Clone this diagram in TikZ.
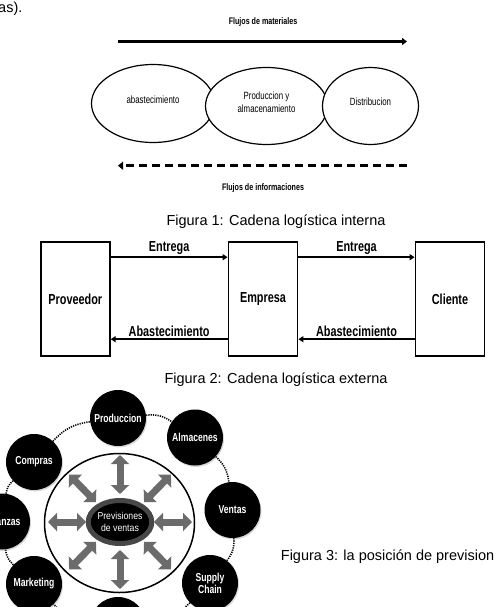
\documentclass[tikz,border=0pt]{standalone}
\usepackage{fontspec}
\setmainfont{Liberation Sans}
\newfontfamily\tightsans[FakeStretch=0.75]{Liberation Sans}
\newfontfamily\hubsans[FakeStretch=0.87]{Liberation Sans}
\usepackage{tikz}
\usetikzlibrary{arrows.meta,positioning,shapes.geometric,shadows}
\pgfdeclarelayer{edgelayer}
\pgfdeclarelayer{nodelayer}
\pgfsetlayers{edgelayer,nodelayer,main}

\tikzset{
  caption/.style={font=\fontsize{14.5}{16}\selectfont,inner sep=0pt},
  flowlabel/.style={font=\tightsans\bfseries\fontsize{9.5}{11}\selectfont},
  stage/.style={ellipse,draw,line width=1.2pt,fill=white,inner sep=0pt,
    label={[font=\tightsans\fontsize{10.5}{13}\selectfont,align=center,yshift=4pt]center:#1}},
  party/.style={draw,line width=1.8pt,minimum width=69pt,minimum height=114pt,
    font=\tightsans\bfseries\fontsize{14.5}{16}\selectfont},
  link/.style={line width=1.8pt,-{Triangle[length=5pt,width=6pt]},
    font=\tightsans\bfseries\fontsize{14.5}{16}\selectfont},
  ball/.style={circle,fill=black,minimum size=56pt,inner sep=0pt,text=white,align=center,
    font=\tightsans\bfseries\fontsize{11.5}{12}\selectfont,
    drop shadow={opacity=0.3,shadow xshift=1pt,shadow yshift=-1.5pt}},
  hub/.style={ellipse,fill=black,draw=black!72,line width=5pt,minimum width=59pt,minimum height=43pt,
    inner sep=0pt,text=white,align=center,font=\hubsans\fontsize{10}{12}\selectfont},
  ring/.style={line width=1.6pt,dash pattern=on 1.2pt off 1.1pt},
  bigarrow/.style={line width=7pt,draw=black!58,
    {Triangle[length=9pt,width=18pt]}-{Triangle[length=9pt,width=18pt]}}
}

\begin{document}
\begin{tikzpicture}[x=1pt,y=-1pt]
\useasboundingbox (0,0) rectangle (493,607);
\clip (0,0) rectangle (493,607);

% Figura 1
\node[caption,anchor=west] (prev) at (-2,9) {as).};
\node[flowlabel] (mat) at (263,22) {Flujos de materiales};
\coordinate (m0) at (118,41.5);
\coordinate (m1) at (407,41.5);
\draw[line width=2.5pt,-{Triangle[length=5pt,width=7pt]}] (m0) -- (m1);
\node[stage=abastecimiento,minimum width=123pt,minimum height=78pt] (abas) at (153,103.5) {};
\node[stage={Produccion y\\almacenamiento},minimum width=122pt,minimum height=77pt] (alma) at (266.5,106) {};
\node[stage=Distribucion,minimum width=96pt,minimum height=77pt] (dist) at (370.5,106) {};
\coordinate (i0) at (407,165.7);
\coordinate (i1) at (118,165.7);
\draw[line width=3pt,dash pattern=on 8pt off 5pt,-{Triangle[length=5pt,width=8pt]}] (i0) -- (i1);
\node[flowlabel] (info) at (263,188) {Flujos de informaciones};
\node[caption] (cap1) at (276,221.7) {Figura 1: Cadena logística interna};

% Figura 2
\node[party] (prov) at (75.3,299.2) {Proveedor};
\node[party] (emp) at (263,299.2) {Empresa};
\node[party] (cli) at (450,299.2) {Cliente};
\path[link]
([yshift=42pt]prov.east) edge node[above=-2pt] {Entrega} ([yshift=42pt]emp.west)
([yshift=42pt]emp.east) edge node[above=-2pt] {Entrega} ([yshift=42pt]cli.west)
([yshift=-40pt]cli.west) edge node[above=-2pt] {Abastecimiento} ([yshift=-40pt]emp.east)
([yshift=-40pt]emp.west) edge node[above=-2pt] {Abastecimiento} ([yshift=-40pt]prov.east);
\node[caption] (cap2) at (276,380) {Figura 2: Cadena logística externa};

% Figura 3
\coordinate (c) at (120,522);
\node[draw,ellipse,line width=1.5pt,minimum width=150pt,minimum height=139pt] (rim) at (119.5,523) {};
\foreach \a in {0,45,...,315}
  \draw[bigarrow] ([shift={(\a:34 and 28)}]c) -- ([shift={(\a:72 and 67)}]c);
\node[hub] (fore) at (c) {Previsiones\\de ventas};
\node[ball] (produc) at (118,418) {Produccion};
\node[ball] (almac) at (195,437.5) {Almacenes};
\node[ball] (ventas) at (232.5,510) {Ventas};
\node[ball] (supply) at (210,583) {Supply\\Chain};
\node[ball] (bottom) at (118,625) {};
\node[ball] (market) at (34,584) {Marketing};
\node[ball] (finan) at (2,521.5) {Finanzas};
\node[ball] (compras) at (34,462) {Compras};
\begin{pgfonlayer}{edgelayer}
\draw[ring] (produc) to[bend left=20] (almac);
\draw[ring] (almac) to[bend left=20] (ventas);
\draw[ring] (ventas) to[bend left=20] (supply);
\draw[ring] (supply) to[bend left=20] (bottom);
\draw[ring] (bottom) to[bend left=20] (market);
\draw[ring] (market) to[bend left=20] (finan);
\draw[ring] (finan) to[bend left=20] (compras);
\draw[ring] (compras) to[bend left=20] (produc);
\end{pgfonlayer}
\node[caption,anchor=west] (cap3) at (280.7,556.7) {Figura 3: la posición de previsiones};
\end{tikzpicture}
\end{document}
